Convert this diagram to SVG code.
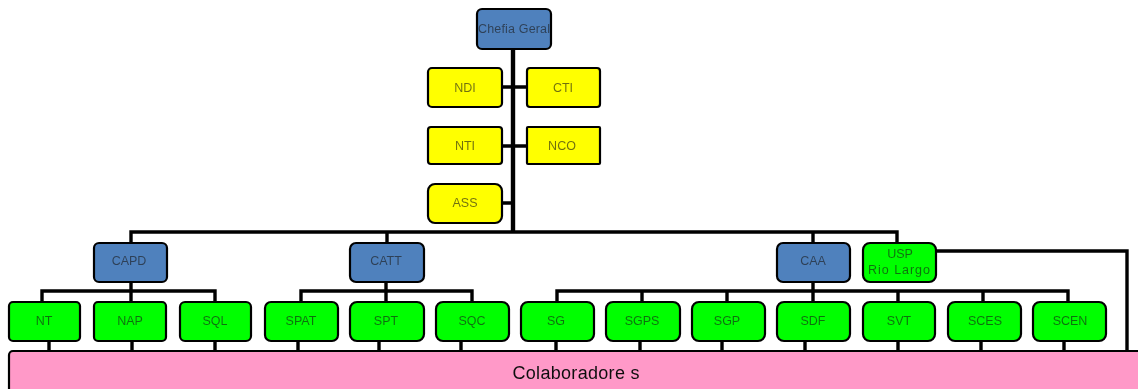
<svg xmlns="http://www.w3.org/2000/svg" width="1138" height="389" viewBox="0 0 1138 389">
<style>
.b{stroke:#000;stroke-width:2.2}
.blue{fill:#4f81bd}.yel{fill:#ff0}.grn{fill:#0f0}.pink{fill:#ff99c8}
text{font-family:"Liberation Sans",Arial,sans-serif;font-size:12.5px;text-anchor:middle;fill:#1a1a1a;opacity:.62}
.c{fill:none;stroke:#000;stroke-width:3.4}
.t{fill:none;stroke:#000;stroke-width:4.4}
</style>
<defs><filter id="s" x="-2%" y="-2%" width="104%" height="104%"><feGaussianBlur stdDeviation="0.6"/></filter></defs>
<rect width="1138" height="389" fill="#fff"/>
<g filter="url(#s)">
<g id="connectors">
<path class="t" d="M513 49V232"/>
<path class="c" d="M502 87H527M502 146H527M502 203H513"/>
<path class="c" d="M131 243V232H897V243M387 232V243M813 232V243"/>
<path class="c" d="M131 282V302M42 302V291H215V302"/>
<path class="c" d="M386 282V302M301 302V291H472V302"/>
<path class="c" d="M813 282V302M557 302V291H1068V302M642 291V302M727 291V302M898 291V302M983 291V302"/>
<path class="c" d="M936 251H1127V351"/>
<path class="c" d="M49 341V351M132 341V351M215 341V351M298 341V351M379 341V351M461 341V351M556 341V351M640 341V351M722 341V351M805 341V351M898 341V351M981 341V351M1064 341V351"/>
</g>
<g id="chefia"><rect class="b blue" x="477" y="9" width="74" height="40" rx="5"/><text x="514" y="33" textLength="72" lengthAdjust="spacing">Chefia Geral</text></g>
<g id="ndi"><rect class="b yel" x="428" y="68" width="74" height="39" rx="4"/><text x="465" y="92">NDI</text></g>
<g id="cti"><rect class="b yel" x="527" y="68" width="73" height="39" rx="3"/><text x="563" y="92">CTI</text></g>
<g id="nti"><rect class="b yel" x="428" y="127" width="74" height="37" rx="3"/><text x="465" y="150">NTI</text></g>
<g id="nco"><rect class="b yel" x="527" y="127" width="73" height="37" rx="1"/><text x="562" y="150">NCO</text></g>
<g id="ass"><rect class="b yel" x="428" y="184" width="74" height="39" rx="7"/><text x="465" y="207">ASS</text></g>
<g id="capd"><rect class="b blue" x="94" y="243" width="73" height="39" rx="5"/><text x="129" y="265">CAPD</text></g>
<g id="catt"><rect class="b blue" x="350" y="243" width="74" height="39" rx="6"/><text x="386" y="265">CATT</text></g>
<g id="caa"><rect class="b blue" x="777" y="243" width="73" height="39" rx="6"/><text x="813" y="265">CAA</text></g>
<g id="usp"><rect class="b grn" x="863" y="243" width="73" height="39" rx="7"/><text x="900" y="258">USP</text><text x="899" y="274" textLength="62" lengthAdjust="spacing">Rio Largo</text></g>
<g id="nt"><rect class="b grn" x="9" y="302" width="71" height="39" rx="4"/><text x="44" y="325">NT</text></g>
<g id="nap"><rect class="b grn" x="94" y="302" width="72" height="39" rx="4"/><text x="130" y="325">NAP</text></g>
<g id="sql"><rect class="b grn" x="180" y="302" width="71" height="39" rx="5"/><text x="215" y="325">SQL</text></g>
<g id="spat"><rect class="b grn" x="265" y="302" width="73" height="39" rx="6"/><text x="301" y="325">SPAT</text></g>
<g id="spt"><rect class="b grn" x="350" y="302" width="74" height="39" rx="7"/><text x="386" y="325">SPT</text></g>
<g id="sqc"><rect class="b grn" x="436" y="302" width="73" height="39" rx="7"/><text x="472" y="325">SQC</text></g>
<g id="sg"><rect class="b grn" x="521" y="302" width="73" height="39" rx="7"/><text x="556" y="325">SG</text></g>
<g id="sgps"><rect class="b grn" x="606" y="302" width="74" height="39" rx="7"/><text x="642" y="325">SGPS</text></g>
<g id="sgp"><rect class="b grn" x="692" y="302" width="73" height="39" rx="7"/><text x="727" y="325">SGP</text></g>
<g id="sdf"><rect class="b grn" x="777" y="302" width="73" height="39" rx="7"/><text x="813" y="325">SDF</text></g>
<g id="svt"><rect class="b grn" x="863" y="302" width="72" height="39" rx="7"/><text x="899" y="325">SVT</text></g>
<g id="sces"><rect class="b grn" x="948" y="302" width="73" height="39" rx="7"/><text x="985" y="325">SCES</text></g>
<g id="scen"><rect class="b grn" x="1033" y="302" width="73" height="39" rx="7"/><text x="1070" y="325">SCEN</text></g>
<g id="colaboradores"><rect class="b pink" x="9" y="351" width="1140" height="50" rx="4"/><text x="576" y="379" style="font-size:18px;opacity:1;fill:#111" textLength="127" lengthAdjust="spacing">Colaboradore s</text></g>
</g>
</svg>
